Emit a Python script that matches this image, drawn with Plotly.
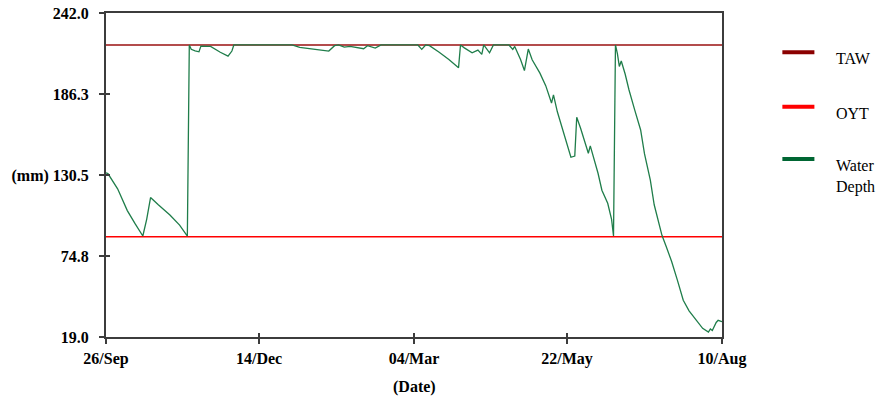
import pandas as pd
import plotly.graph_objects as go

# ---- data -------------------------------------------------------------
start_date = "2006-09-26"
end_date = "2007-08-10"

# day offsets from the start date and soil water depth (mm) on those days
depth_days = [
    0, 1, 6, 11, 15, 19, 21, 23, 27, 33, 38, 42, 43, 44, 46, 48, 49, 54, 59, 63,
    65, 66, 96, 100, 108, 115, 118, 120, 123, 126, 133, 135, 139, 142, 161, 163,
    165, 167, 172, 177, 182, 183, 185, 189, 192, 194, 195, 198, 200, 208, 210,
    211, 214, 216, 218, 220, 224, 227, 230, 231, 233, 237, 240, 242, 243, 245,
    247, 249, 250, 254, 256, 259, 261, 262, 263, 264, 265, 266, 268, 270, 273,
    276, 278, 281, 283, 287, 289, 292, 295, 298, 301, 305, 308, 311, 312, 313,
    315, 316, 318,
]
depth_mm = [
    132.0, 131.5, 121.0, 106.0, 97.0, 88.5, 100.0, 115.0, 110.0, 103.0, 96.0,
    88.5, 220.0, 217.0, 216.0, 215.3, 219.2, 219.0, 215.0, 212.3, 215.8, 220.0,
    220.0, 218.3, 217.0, 215.8, 219.5, 220.0, 218.5, 219.0, 217.4, 219.5, 217.8,
    220.0, 220.0, 217.0, 220.0, 219.5, 215.0, 210.0, 204.3, 220.0, 218.0, 214.6,
    216.5, 213.5, 220.0, 214.6, 220.0, 220.0, 217.0, 219.0, 210.0, 202.4, 217.2,
    209.8, 200.6, 192.0, 180.0, 185.7, 174.0, 157.0, 142.7, 143.5, 170.3, 162.7,
    154.6, 145.5, 150.5, 131.7, 120.0, 111.0, 100.0, 88.5, 220.0, 214.0, 205.2,
    209.0, 200.0, 189.0, 175.0, 161.5, 145.0, 127.0, 110.0, 89.0, 82.0, 71.0,
    58.0, 44.3, 37.0, 30.5, 25.0, 22.4, 24.5, 23.5, 29.0, 30.5, 29.5,
]

taw_mm = 220.0   # total available water
oyt_mm = 88.0    # optimum yield threshold

y_ticks = [19.0, 74.8, 130.5, 186.3, 242.0]
y_tick_text = ["19.0", "74.8", "(mm) 130.5", "186.3", "242.0"]
x_ticks = ["2006-09-26", "2006-12-14", "2007-03-04", "2007-05-22", "2007-08-10"]
x_tick_text = ["26/Sep", "14/Dec", "04/Mar", "22/May", "10/Aug"]

legend_names = ["TAW", "OYT", "Water<br>Depth"]
legend_colors = ["#8b0000", "#ff0000", "#006633"]

# ---- figure -----------------------------------------------------------
depth_dates = pd.Timestamp(start_date) + pd.to_timedelta(depth_days, unit="D")

SERIF = "Liberation Serif, Times New Roman, serif"
AXIS_COLOR = "#3c3c3c"
TICK_FONT = dict(family=SERIF, size=16, weight="bold", color="black")

fig = go.Figure()
fig.add_trace(go.Scatter(
    x=[start_date, end_date], y=[taw_mm, taw_mm], mode="lines",
    line=dict(color="#9a1010", width=1.5), name="TAW", showlegend=False,
))
fig.add_trace(go.Scatter(
    x=[start_date, end_date], y=[oyt_mm, oyt_mm], mode="lines",
    line=dict(color="#ff0000", width=1.5), name="OYT", showlegend=False,
))
fig.add_trace(go.Scatter(
    x=depth_dates, y=depth_mm, mode="lines",
    line=dict(color="#1f7d4a", width=1.3), name="Water Depth", showlegend=False,
))
# empty trace that carries the inner half of the crossing tick marks
fig.add_trace(go.Scatter(x=[], y=[], xaxis="x2", yaxis="y2", showlegend=False))

fig.update_layout(
    width=882, height=396,
    margin=dict(l=106, r=160, t=13, b=59, autoexpand=False),
    paper_bgcolor="white", plot_bgcolor="white",
    font=dict(family=SERIF, color="black", size=15),
    xaxis=dict(
        type="date", range=[start_date, end_date], automargin=False,
        tickmode="array", tickvals=x_ticks, ticktext=x_tick_text,
        ticks="outside", ticklen=5, tickwidth=1.5, tickcolor=AXIS_COLOR,
        showline=True, linecolor=AXIS_COLOR, linewidth=2, mirror=True,
        showgrid=False, zeroline=False,
        tickfont=TICK_FONT, ticklabelstandoff=1,
    ),
    yaxis=dict(
        range=[19, 242], automargin=False,
        tickmode="array", tickvals=y_ticks, ticktext=y_tick_text,
        ticks="outside", ticklen=5, tickwidth=1.5, tickcolor=AXIS_COLOR,
        showline=True, linecolor=AXIS_COLOR, linewidth=2, mirror=True,
        showgrid=False, zeroline=False,
        tickfont=TICK_FONT, ticklabelstandoff=7,
    ),
    xaxis2=dict(
        type="date", range=[start_date, end_date], overlaying="x",
        automargin=False,
        tickmode="array", tickvals=x_ticks, ticks="inside", ticklen=4,
        tickwidth=1.5, tickcolor=AXIS_COLOR, showticklabels=False,
        showline=False, showgrid=False, zeroline=False,
    ),
    yaxis2=dict(
        range=[19, 242], overlaying="y", side="left", automargin=False,
        tickmode="array", tickvals=y_ticks, ticks="inside", ticklen=4,
        tickwidth=1.5, tickcolor=AXIS_COLOR, showticklabels=False,
        showline=False, showgrid=False, zeroline=False,
    ),
)

# x axis title
fig.add_annotation(xref="paper", yref="paper", x=0.5, y=-0.155,
                   xanchor="center", yanchor="middle", text="(Date)",
                   showarrow=False, font=TICK_FONT)

# legend drawn at the right of the plot
swatch_y = [0.879, 0.711, 0.549]
for name, color, sy in zip(legend_names, legend_colors, swatch_y):
    fig.add_shape(type="line", xref="paper", yref="paper",
                  x0=1.098, x1=1.150, y0=sy, y1=sy,
                  line=dict(color=color, width=4))
    fig.add_annotation(xref="paper", yref="paper", x=1.182, y=sy + 0.012,
                       xanchor="left", yanchor="top", align="left",
                       text=name, showarrow=False,
                       font=dict(family=SERIF, size=16, color="black"))

fig.write_html("out.html")
